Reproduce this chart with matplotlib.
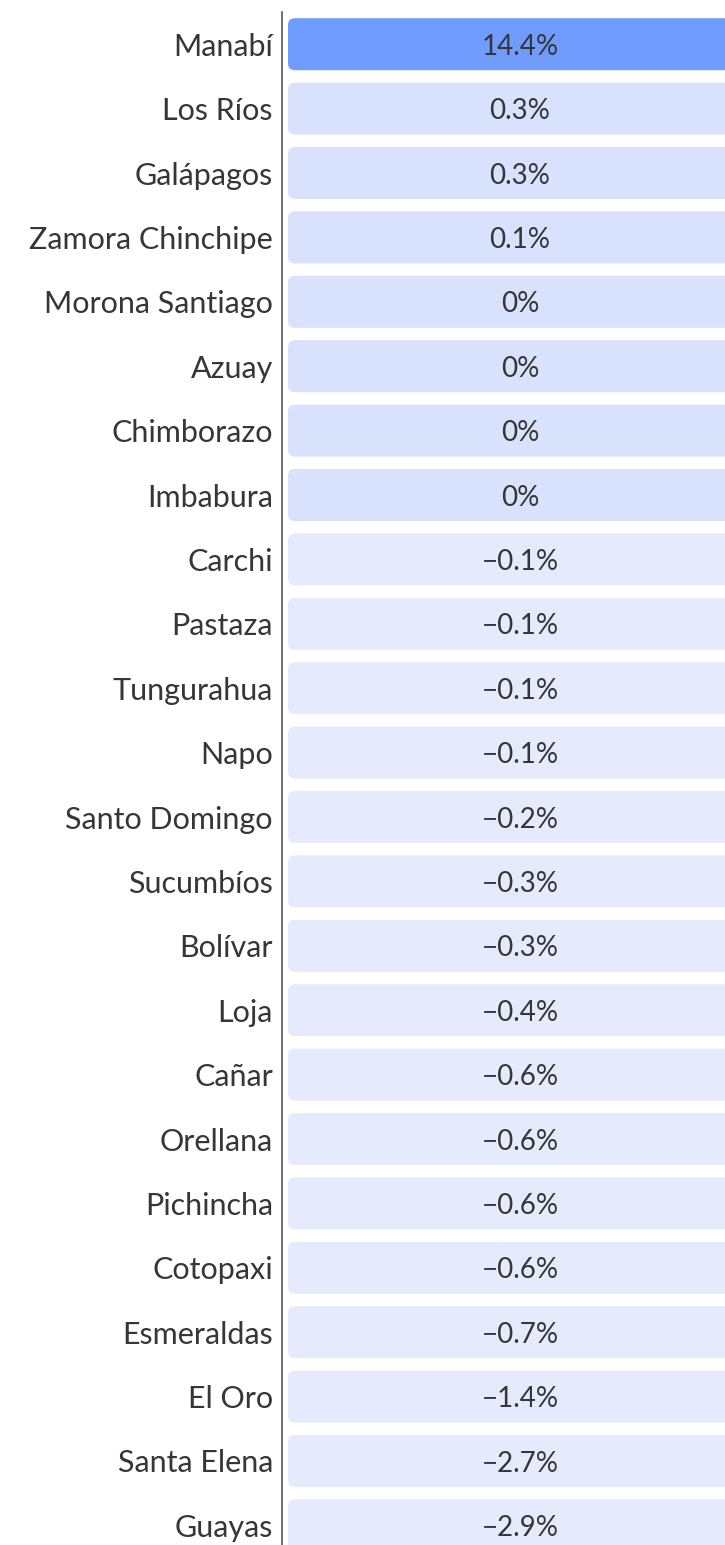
import matplotlib
matplotlib.use("Agg")
import matplotlib.pyplot as plt
from matplotlib.patches import FancyBboxPatch

provinces = ["Manabí", "Los Ríos", "Galápagos", "Zamora Chinchipe", "Morona Santiago",
             "Azuay", "Chimborazo", "Imbabura", "Carchi", "Pastaza", "Tungurahua", "Napo",
             "Santo Domingo", "Sucumbíos", "Bolívar", "Loja", "Cañar", "Orellana",
             "Pichincha", "Cotopaxi", "Esmeraldas", "El Oro", "Santa Elena", "Guayas"]
values = [14.4, 0.3, 0.3, 0.1, 0, 0, 0, 0, -0.1, -0.1, -0.1, -0.1, -0.2, -0.3, -0.3,
          -0.4, -0.6, -0.6, -0.6, -0.6, -0.7, -1.4, -2.7, -2.9]

W, H, DPI = 725, 1545, 100
fig = plt.figure(figsize=(W / DPI, H / DPI), dpi=DPI)
fig.patch.set_facecolor("white")

row = 64.4
n = len(provinces)
ax_left, ax_top, ax_w = 282, 12, 476
ax_h = n * row
ax = fig.add_axes([ax_left / W, 1 - (ax_top + ax_h) / H, ax_w / W, ax_h / H])
ax.set_xlim(0, ax_w)
ax.set_ylim(n - 0.5, -0.5)

font = "Lato"
txt_color = "#363636"

def color_for(v):
    if v >= 5:
        return "#709bff"
    if v >= 0:
        return "#d9e2fd"
    return "#e5ebfc"

bar_h = 52 / row
bars = ax.barh(range(n), [464] * n, left=6, height=bar_h, color="none")
for i, (b, v) in enumerate(zip(bars, values)):
    x0, y0 = b.get_x(), b.get_y()
    w, h = b.get_width(), b.get_height()
    p = FancyBboxPatch((x0, y0), w, h,
                       boxstyle="round,pad=0,rounding_size=7",
                       mutation_aspect=1 / row,
                       facecolor=color_for(v), edgecolor="none")
    ax.add_patch(p)
    b.set_visible(False)
    lab = f"{v:g}%".replace("-", "\u2212")
    ax.text(x0 + w / 2, i, lab, ha="center", va="center_baseline",
            fontsize=20, color=txt_color, family=font)

ax.set_yticks(range(n))
ax.set_yticklabels(provinces, fontsize=22, color=txt_color, family=font)
ax.tick_params(axis="y", length=0, pad=6.5)
ax.set_xticks([])
for s in ["top", "right", "bottom"]:
    ax.spines[s].set_visible(False)
ax.spines["left"].set_color("#555555")
ax.spines["left"].set_linewidth(1.2)
ax.set_facecolor("none")

fig.savefig("out.png", dpi=DPI)
